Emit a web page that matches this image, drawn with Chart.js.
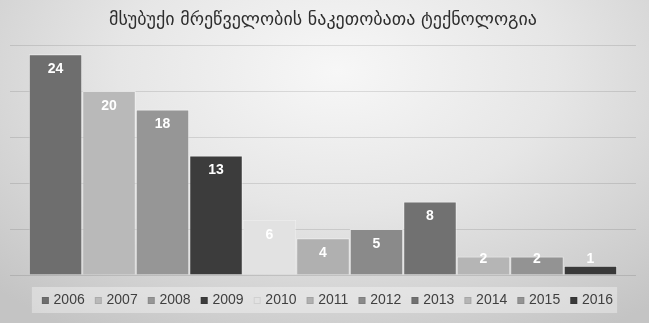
<!DOCTYPE html>
<html>
<head>
<meta charset="utf-8">
<script src="https://cdn.jsdelivr.net/npm/chart.js@4/dist/chart.umd.min.js"></script>
<style>
  html, body { margin: 0; padding: 0; }
  #wrap {
    width: 649px; height: 323px; position: relative;
    background: radial-gradient(ellipse 75% 95% at 52% 22%, #f7f7f7 0%, #e6e6e6 45%, #c4c4c4 100%);
  }
</style>
</head>
<body>
<div id="wrap"><canvas id="chart" width="649" height="323"></canvas></div>
<script>
// Chart data
const titleText = 'მსუბუქი მრეწველობის ნაკეთობათა ტექნოლოგია';
const years = ['2006', '2007', '2008', '2009', '2010', '2011', '2012', '2013', '2014', '2015', '2016'];
const counts = [24, 20, 18, 13, 6, 4, 5, 8, 2, 2, 1];
const barColors = ['#6e6e6e', '#b9b9b9', '#969696', '#3c3c3c', '#e2e2e2', '#b0b0b0',
                   '#8a8a8a', '#717171', '#b5b5b5', '#939393', '#393939'];

const FONT = '"Liberation Sans", Arial, sans-serif';

// White value labels near the top of each bar
const valueLabels = {
    id: 'valueLabels',
    afterDatasetsDraw(chart) {
        const ctx = chart.ctx;
        ctx.save();
        ctx.font = 'bold 14px ' + FONT;
        ctx.fillStyle = '#ffffff';
        ctx.textAlign = 'center';
        ctx.textBaseline = 'middle';
        chart.data.datasets.forEach((ds, i) => {
            const bar = chart.getDatasetMeta(i).data[0];
            const y = Math.min(bar.y + 15, bar.base - 15);
            ctx.fillText(String(ds.data[0]), bar.x, y);
        });
        ctx.restore();
    }
};

// Legend row in a light box under the plot
const boxLegend = {
    id: 'boxLegend',
    afterDraw(chart) {
        const ctx = chart.ctx;
        ctx.save();
        ctx.font = '14px ' + FONT;
        const sq = 7, gap = 4.7, itemGap = 10.1, padL = 10, padR = 4;
        const items = chart.data.datasets.map(ds => ({
            text: ds.label, color: ds.backgroundColor, w: ctx.measureText(ds.label).width
        }));
        let total = padL + padR;
        items.forEach((it, i) => { total += sq + gap + it.w + (i < items.length - 1 ? itemGap : 0); });
        const boxX = (chart.width - total) / 2;
        ctx.fillStyle = 'rgba(255,255,255,0.35)';
        ctx.fillRect(boxX, 287, total, 26);
        let x = boxX + padL;
        ctx.textBaseline = 'middle';
        items.forEach(it => {
            ctx.fillStyle = it.color;
            ctx.fillRect(x, 297, sq, sq);
            ctx.strokeStyle = 'rgba(0,0,0,0.08)';
            ctx.lineWidth = 1;
            ctx.strokeRect(x + 0.5, 297.5, sq - 1, sq - 1);
            ctx.fillStyle = '#404040';
            ctx.fillText(it.text, x + sq + gap, 300.5);
            x += sq + gap + it.w + itemGap;
        });
        ctx.restore();
    }
};

new Chart(document.getElementById('chart'), {
    type: 'bar',
    data: {
        labels: [''],
        datasets: years.map((y, i) => ({
            label: y,
            data: [counts[i]],
            backgroundColor: barColors[i],
            borderColor: 'rgba(255,255,255,0.45)',
            borderWidth: 1
        }))
    },
    options: {
        responsive: false,
        animation: false,
        devicePixelRatio: 1,
        layout: { padding: { left: 10, right: 13, bottom: 48, top: 0 } },
        datasets: { bar: { categoryPercentage: 0.94, barPercentage: 1 } },
        plugins: {
            legend: { display: false },
            tooltip: { enabled: false },
            title: {
                display: true,
                text: titleText,
                color: '#2e2e2e',
                font: { family: '"DejaVu Sans", sans-serif', size: 18, weight: 'normal', lineHeight: 1.2 },
                padding: { top: 10, bottom: 13.4 }
            }
        },
        scales: {
            x: { display: false },
            y: {
                min: 0,
                max: 25,
                z: 1,
                ticks: { display: false, stepSize: 5 },
                grid: { color: 'rgba(0,0,0,0.11)', drawTicks: false },
                border: { display: false }
            }
        }
    },
    plugins: [valueLabels, boxLegend]
});
</script>
</body>
</html>
